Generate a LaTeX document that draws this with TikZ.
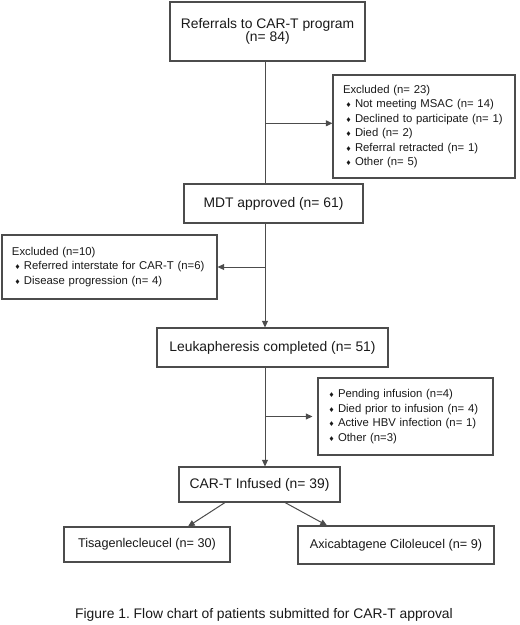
\documentclass[tikz,border=0pt]{standalone}
\usepackage{fontspec}
\setmainfont{Liberation Sans}
\newfontfamily\symfont{DejaVu Sans}
\usetikzlibrary{calc,arrows.meta}
\frenchspacing

\definecolor{linegray}{gray}{0.3}
\definecolor{textgray}{gray}{0.1}

% small diamond bullet and list item
\newcommand{\dmd}{{\symfont\fontsize{5pt}{5pt}\selectfont ♦}}
\newcommand{\itm}[1]{\makebox[9pt][l]{\hspace{2pt}\dmd}#1}

\tikzset{
    box/.style={draw=linegray, line width=0.8pt, text=textgray, inner sep=0pt,
        font=\fontsize{10.4pt}{10pt}\selectfont, align=center},
    subbox/.style={box, font=\fontsize{9.5pt}{11pt}\selectfont},
    listbox/.style={draw=linegray, line width=0.8pt, text=textgray, inner xsep=7.5pt,
        inner ysep=0pt, align=left, font=\fontsize{8.5pt}{10.9pt}\selectfont},
    link/.style={draw=linegray, line width=0.75pt},
    arr/.style={link, -{Triangle[length=5pt,width=4.5pt]}}
}

\begin{document}
\begin{tikzpicture}[x=0.75pt, y=-0.75pt]
    \useasboundingbox (0,0) rectangle (520,625);
    \coordinate (spine) at (265,0);

    \node[box, minimum width=146.25pt, minimum height=44.25pt] (referrals) at (267.5,31.5)
        {Referrals to CAR-T program\\(n= 84)};
    \node[listbox, text width=121.5pt, minimum height=77.25pt] (excl1) at (424,126.5)
        {Excluded (n= 23)\\
         \itm{Not meeting MSAC (n= 14)}\\
         \itm{Declined to participate (n= 1)}\\
         \itm{Died (n= 2)}\\
         \itm{Referral retracted (n= 1)}\\
         \itm{Other (n= 5)}};
    \node[box, minimum width=134.25pt, minimum height=29.25pt] (mdt) at (273.5,203.5)
        {MDT approved (n= 61)};
    \node[listbox, text width=146.25pt, minimum height=48pt] (excl2) at (109.5,267)
        {Excluded (n=10)\\
         \itm{Referred interstate for CAR-T (n=6)}\\
         \itm{Disease progression (n= 4)}};
    \node[box, minimum width=173.25pt, minimum height=29.25pt] (leuk) at (272.5,347.5)
        {Leukapheresis completed (n= 51)};
    \node[listbox, inner xsep=6pt, text width=119.25pt, minimum height=57.75pt] (excl3) at (405.5,416.5)
        {\itm{Pending infusion (n=4)}\\
         \itm{Died prior to infusion (n= 4)}\\
         \itm{Active HBV infection (n= 1)}\\
         \itm{Other (n=3)}};
    \node[box, minimum width=120.75pt, minimum height=26.25pt] (infused) at (259.5,484.5)
        {CAR-T Infused (n= 39)};
    \node[subbox, minimum width=124.5pt, minimum height=26.25pt] (tisa) at (147,544.5)
        {Tisagenlecleucel (n= 30)};
    \node[subbox, minimum width=147pt, minimum height=28.5pt] (axi) at (396,545)
        {Axicabtagene Ciloleucel (n= 9)};

    % main line and side arrows
    \draw[link] (referrals.south -| spine) -- (mdt.north -| spine);
    \draw[arr] (spine |- excl1.178) -- (excl1.178);
    \draw[arr] (spine |- excl2.east) -- (excl2.east);
    \draw[arr] (mdt.south -| spine) -- (leuk.north -| spine);
    \draw[arr, shorten >=3.75pt] (spine |- excl3.west) -- (excl3.west);
    \draw[arr] (leuk.south -| spine) -- (infused.north -| spine);
    % split to products
    \draw[arr] ($(infused.south)+(-34.5,0)$) -- ($(tisa.north)+(41,0)$);
    \draw[arr] ($(infused.south)+(25.5,0)$) -- ($(axi.north)+(-69,0)$);

    \node[text=textgray, font=\fontsize{10.4pt}{12pt}\selectfont] (caption) at (264,615)
        {Figure 1. Flow chart of patients submitted for CAR-T approval};
\end{tikzpicture}
\end{document}
